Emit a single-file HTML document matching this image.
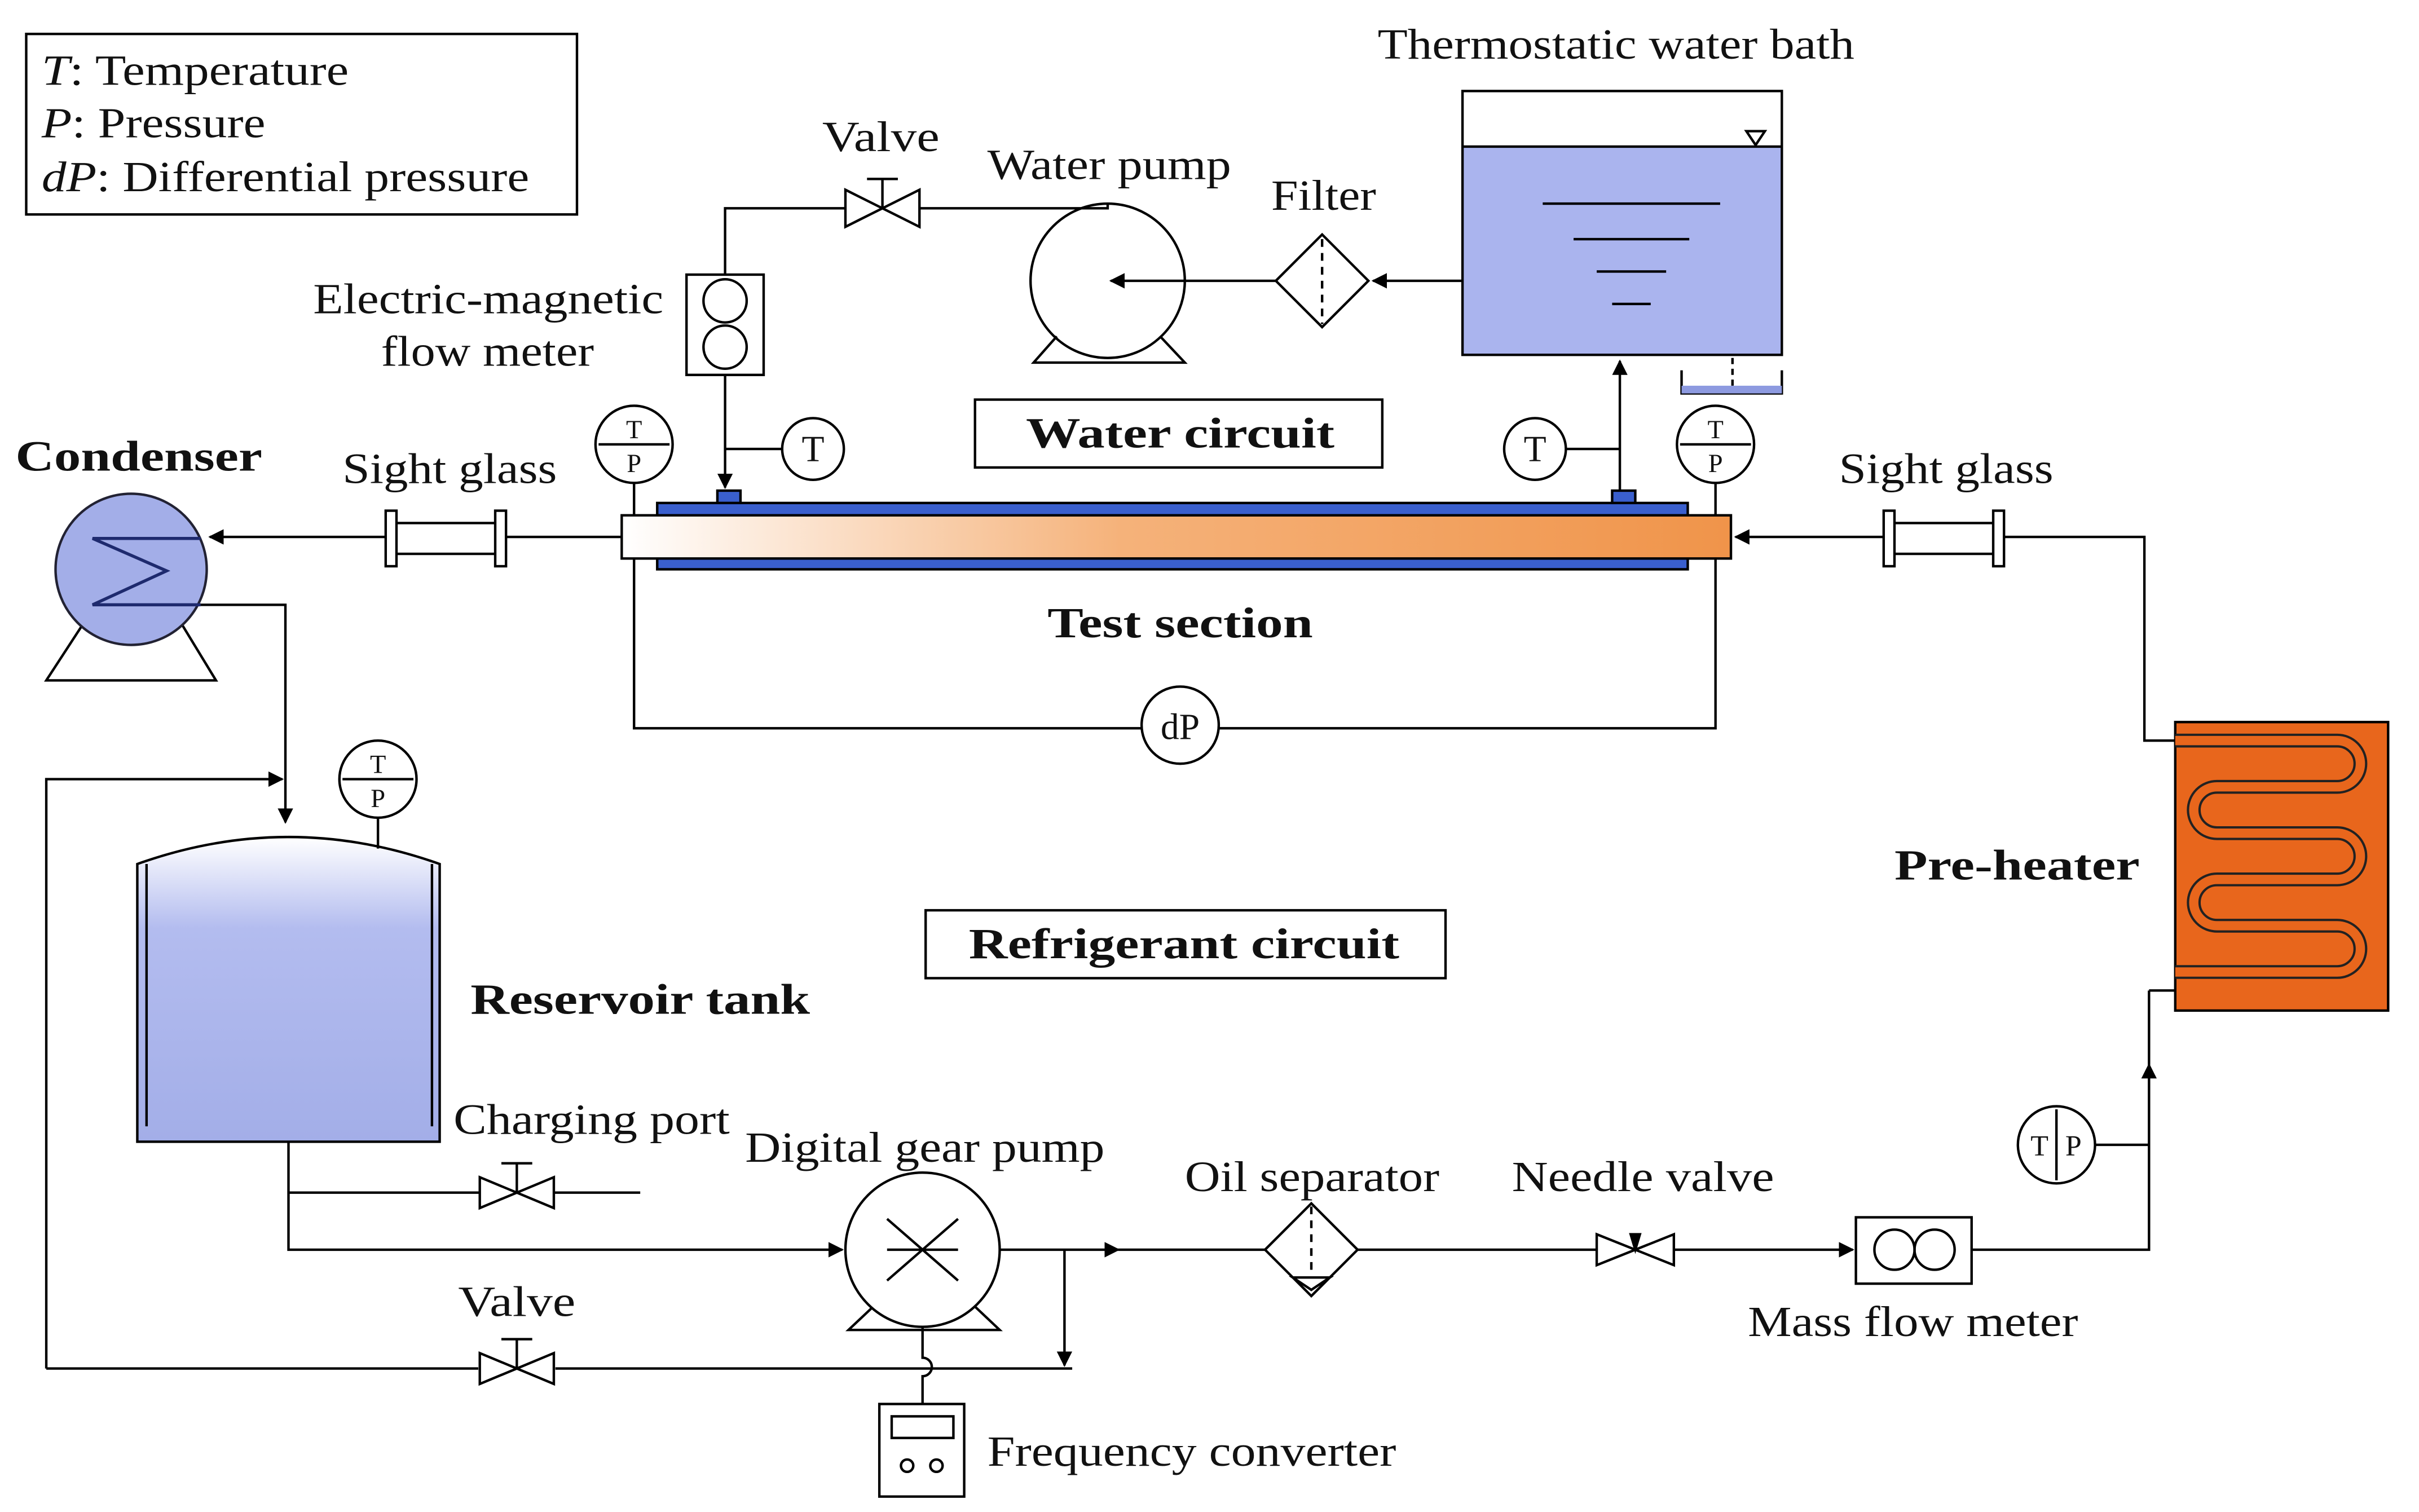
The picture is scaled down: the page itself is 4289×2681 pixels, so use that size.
<!DOCTYPE html>
<html><head><meta charset="utf-8"><style>html,body{margin:0;padding:0;background:#fff}svg{display:block}text{font-family:"Liberation Serif",serif;font-size:28px;fill:#111}.b{font-weight:bold}</style></head>
<body>
<svg width="4289" height="2681" viewBox="0 0 1568 980" preserveAspectRatio="none" xmlns="http://www.w3.org/2000/svg">
<defs>
<marker id="a" markerWidth="10" markerHeight="10" refX="9" refY="5" orient="auto" markerUnits="userSpaceOnUse"><path d="M0,0 L10,5 L0,10 z" fill="#000"/></marker>
<linearGradient id="ts" x1="0" x2="1"><stop offset="0" stop-color="#fff"/><stop offset="0.45" stop-color="#f5b27a"/><stop offset="1" stop-color="#f0944a"/></linearGradient>
<linearGradient id="rt" x1="0" x2="0" y1="0" y2="1"><stop offset="0" stop-color="#fff"/><stop offset="0.3" stop-color="#b3bcef"/><stop offset="1" stop-color="#a3aee8"/></linearGradient>
</defs>
<g stroke="#000" stroke-width="1.6" fill="none">
<rect x="17" y="22" width="357" height="117"/>
<rect x="948" y="95" width="207" height="135" fill="#aab4ee" stroke="none"/>
<rect x="948" y="59" width="207" height="171"/>
<line x1="948" y1="95" x2="1155" y2="95"/>
<path d="M1132,85 L1144,85 L1138,94 z"/>
<line x1="1000" y1="132" x2="1115" y2="132"/><line x1="1020" y1="155" x2="1095" y2="155"/><line x1="1035" y1="176" x2="1080" y2="176"/><line x1="1045" y1="197" x2="1070" y2="197"/>
<line x1="1123" y1="232" x2="1123" y2="250" stroke-dasharray="4,3"/>
<path d="M1090,240 L1090,255 L1155,255 L1155,240"/>
<rect x="1090" y="250" width="65" height="5" fill="#8d9ae0" stroke="none"/>
<line x1="948" y1="182" x2="890" y2="182" marker-end="url(#a)"/>
<path d="M857,152 L887,182 L857,212 L827,182 z"/>
<line x1="857" y1="155" x2="857" y2="210" stroke-dasharray="5,4"/>
<line x1="827" y1="182" x2="720" y2="182" marker-end="url(#a)"/>
<circle cx="718" cy="182" r="50"/>
<path d="M685,218 L670,235 L768,235 L752,218"/>
<path d="M718,132 L718,135 L470,135 L470,178"/>
<path d="M548,123 L596,147 L596,123 L548,147 z" fill="#fff"/>
<line x1="572" y1="135" x2="572" y2="116"/><line x1="562" y1="116" x2="582" y2="116"/>
<rect x="445" y="178" width="50" height="65"/>
<circle cx="470" cy="195" r="14"/><circle cx="470" cy="225" r="14"/>
<line x1="470" y1="243" x2="470" y2="316" marker-end="url(#a)"/>
<line x1="470" y1="291" x2="507" y2="291"/>
<circle cx="527" cy="291" r="20" fill="#fff"/>
<rect x="632" y="259" width="264" height="44"/>
<circle cx="995" cy="291" r="20" fill="#fff"/>
<line x1="1015" y1="291" x2="1050" y2="291"/>
<line x1="1050" y1="318" x2="1050" y2="234" marker-end="url(#a)"/>
<rect x="426" y="326" width="668" height="43" fill="#3a5fcd"/>
<rect x="403" y="334" width="719" height="28" fill="url(#ts)"/>
<rect x="465" y="318" width="15" height="8" fill="#3a5fcd"/>
<rect x="1045" y="318" width="15" height="8" fill="#3a5fcd"/>
<circle cx="411" cy="288" r="25" fill="#fff"/><line x1="388" y1="288" x2="434" y2="288"/><line x1="411" y1="313" x2="411" y2="334"/>
<circle cx="1112" cy="288" r="25" fill="#fff"/><line x1="1089" y1="288" x2="1135" y2="288"/><line x1="1112" y1="313" x2="1112" y2="334"/>
<path d="M411,362 L411,472 L740,472 M790,472 L1112,472 L1112,362"/>
<circle cx="765" cy="470" r="25" fill="#fff"/>
<line x1="403" y1="348" x2="136" y2="348" marker-end="url(#a)"/>
<rect x="250" y="333" width="78" height="32" fill="#fff" stroke="none"/>
<path d="M250,339 L328,339 M250,359 L328,359"/>
<rect x="250" y="331" width="7" height="36" fill="#fff"/><rect x="321" y="331" width="7" height="36" fill="#fff"/>
<path d="M60,395 L30,441 L140,441 L112,395"/>
<circle cx="85" cy="369" r="49" fill="#a3aee8" stroke="#223"/>
<path d="M130,349 L60,349 L108,370 L60,392 L130,392" stroke="#1e2a6e" stroke-width="2"/>
<path d="M130,392 L185,392 L185,533" marker-end="url(#a)"/>
<path d="M1410,480 L1390,480 L1390,348 L1125,348" marker-end="url(#a)"/>
<rect x="1222" y="333" width="76" height="32" fill="#fff" stroke="none"/>
<path d="M1222,339 L1298,339 M1222,359 L1298,359"/>
<rect x="1221" y="331" width="7" height="36" fill="#fff"/><rect x="1292" y="331" width="7" height="36" fill="#fff"/>
<rect x="1410" y="468" width="138" height="187" fill="#e8661c"/>
<path d="M1410,480 L1515,480 A15,15 0 0 1 1515,510 L1437,510 A15,15 0 0 0 1437,540 L1515,540 A15,15 0 0 1 1515,570 L1437,570 A15,15 0 0 0 1437,600 L1515,600 A15,15 0 0 1 1515,630 L1410,630" stroke-width="9" stroke="#222"/>
<path d="M1410,480 L1515,480 A15,15 0 0 1 1515,510 L1437,510 A15,15 0 0 0 1437,540 L1515,540 A15,15 0 0 1 1515,570 L1437,570 A15,15 0 0 0 1437,600 L1515,600 A15,15 0 0 1 1515,630 L1410,630" stroke-width="6" stroke="#e8661c"/>
<path d="M89,740 L89,560 Q187,525 285,560 L285,740 z" fill="url(#rt)"/>
<line x1="95" y1="560" x2="95" y2="730"/><line x1="280" y1="560" x2="280" y2="730"/>
<circle cx="245" cy="505" r="25" fill="#fff"/><line x1="222" y1="505" x2="268" y2="505"/><line x1="245" y1="530" x2="245" y2="550"/>
<path d="M30,887 L30,505 L183,505" marker-end="url(#a)"/>
<path d="M30,887 L310,887 M360,887 L695,887"/>
<path d="M311,877 L359,897 L359,877 L311,897 z" fill="#fff"/>
<line x1="335" y1="887" x2="335" y2="868"/><line x1="325" y1="868" x2="345" y2="868"/>
<rect x="600" y="590" width="337" height="44"/>
<path d="M187,740 L187,810 L546,810" marker-end="url(#a)"/>
<path d="M187,773 L311,773 M359,773 L415,773"/>
<path d="M311,763 L359,783 L359,763 L311,783 z" fill="#fff"/>
<line x1="335" y1="773" x2="335" y2="754"/><line x1="325" y1="754" x2="345" y2="754"/>
<path d="M568,845 L550,862 L648,862 L630,845"/>
<circle cx="598" cy="810" r="50" fill="#fff"/>
<path d="M575,790 L621,830 M575,830 L621,790 M575,810 L621,810"/>
<path d="M648,810 L725,810" marker-end="url(#a)"/>
<path d="M690,810 L690,885" marker-end="url(#a)"/>
<path d="M598,860 L598,880 A6,6 0 0 1 598,892 L598,910"/>
<rect x="570" y="910" width="55" height="60"/>
<rect x="578" y="918" width="40" height="14"/>
<circle cx="588" cy="950" r="4"/><circle cx="607" cy="950" r="4"/>
<line x1="725" y1="810" x2="1035" y2="810"/>
<path d="M850,780 L880,810 L850,840 L820,810 z" fill="#fff"/>
<line x1="850" y1="782" x2="850" y2="825" stroke-dasharray="5,4"/>
<path d="M838,828 L862,828 L850,836 z"/>
<path d="M1035,800 L1085,820 L1085,800 L1035,820 z" fill="#fff"/>
<path d="M1057,800 L1063,800 L1060,810 z" fill="#000"/>
<line x1="1085" y1="810" x2="1201" y2="810" marker-end="url(#a)"/>
<rect x="1203" y="789" width="75" height="43"/>
<circle cx="1228" cy="810" r="13"/><circle cx="1254" cy="810" r="13"/>
<path d="M1278,810 L1393,810 L1393,690" marker-end="url(#a)"/>
<line x1="1393" y1="690" x2="1393" y2="642"/><line x1="1393" y1="642" x2="1410" y2="642"/>
<circle cx="1333" cy="742" r="25" fill="#fff"/><line x1="1333" y1="719" x2="1333" y2="765"/><line x1="1358" y1="742" x2="1393" y2="742"/>
</g>
<g>
<text x="27" y="55" textLength="199" lengthAdjust="spacingAndGlyphs"><tspan font-style="italic">T</tspan>: Temperature</text>
<text x="27" y="89" textLength="145" lengthAdjust="spacingAndGlyphs"><tspan font-style="italic">P</tspan>: Pressure</text>
<text x="27" y="124" textLength="316" lengthAdjust="spacingAndGlyphs"><tspan font-style="italic">dP</tspan>: Differential pressure</text>
<text x="893" y="38" textLength="309" lengthAdjust="spacingAndGlyphs">Thermostatic water bath</text>
<text x="533" y="98" textLength="76" lengthAdjust="spacingAndGlyphs">Valve</text>
<text x="640" y="116" textLength="158" lengthAdjust="spacingAndGlyphs">Water pump</text>
<text x="824" y="136" textLength="68" lengthAdjust="spacingAndGlyphs">Filter</text>
<text x="203" y="203" textLength="227" lengthAdjust="spacingAndGlyphs">Electric-magnetic</text>
<text x="247" y="237" textLength="138" lengthAdjust="spacingAndGlyphs">flow meter</text>
<text x="665" y="290" class="b" textLength="200" lengthAdjust="spacingAndGlyphs">Water circuit</text>
<text x="10" y="305" class="b" textLength="160" lengthAdjust="spacingAndGlyphs">Condenser</text>
<text x="222" y="313" textLength="139" lengthAdjust="spacingAndGlyphs">Sight glass</text>
<text x="1192" y="313" textLength="139" lengthAdjust="spacingAndGlyphs">Sight glass</text>
<text x="679" y="413" class="b" textLength="172" lengthAdjust="spacingAndGlyphs">Test section</text>
<text x="1228" y="570" class="b" textLength="159" lengthAdjust="spacingAndGlyphs">Pre-heater</text>
<text x="628" y="621" class="b" textLength="279" lengthAdjust="spacingAndGlyphs">Refrigerant circuit</text>
<text x="305" y="657" class="b" textLength="220" lengthAdjust="spacingAndGlyphs">Reservoir tank</text>
<text x="294" y="735" textLength="179" lengthAdjust="spacingAndGlyphs">Charging port</text>
<text x="483" y="753" textLength="233" lengthAdjust="spacingAndGlyphs">Digital gear pump</text>
<text x="768" y="772" textLength="165" lengthAdjust="spacingAndGlyphs">Oil separator</text>
<text x="980" y="772" textLength="170" lengthAdjust="spacingAndGlyphs">Needle valve</text>
<text x="297" y="853" textLength="76" lengthAdjust="spacingAndGlyphs">Valve</text>
<text x="1133" y="866" textLength="214" lengthAdjust="spacingAndGlyphs">Mass flow meter</text>
<text x="640" y="950" textLength="265" lengthAdjust="spacingAndGlyphs">Frequency converter</text>
<g text-anchor="middle">
<text x="527" y="299" style="font-size:24px">T</text>
<text x="995" y="299" style="font-size:24px">T</text>
<text x="765" y="479" style="font-size:24px">dP</text>
<text x="411" y="284" style="font-size:17px">T</text><text x="411" y="306" style="font-size:17px">P</text>
<text x="1112" y="284" style="font-size:17px">T</text><text x="1112" y="306" style="font-size:17px">P</text>
<text x="245" y="501" style="font-size:17px">T</text><text x="245" y="523" style="font-size:17px">P</text>
<text x="1322" y="749" style="font-size:19px">T</text><text x="1344" y="749" style="font-size:19px">P</text>
</g>
</g>
</svg>
</body></html>
